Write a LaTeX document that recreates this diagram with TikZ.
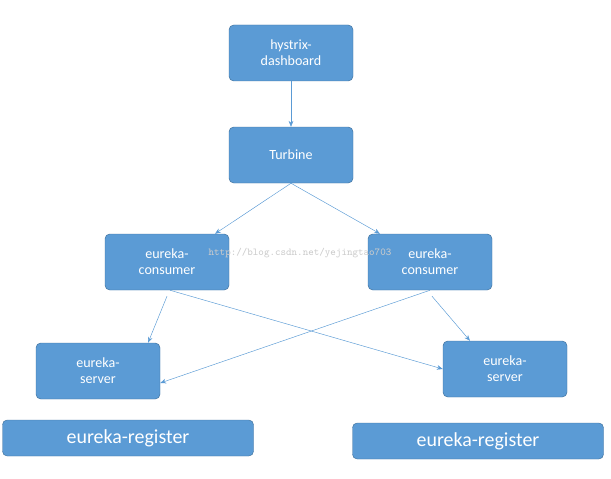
\documentclass[tikz,border=0pt]{standalone}
\usepackage{fontspec}
\setmainfont{Carlito}
\usetikzlibrary{arrows.meta}
\definecolor{boxfill}{HTML}{5B9BD5}
\definecolor{boxline}{HTML}{41719C}
\begin{document}
\begin{tikzpicture}[
  x=0.03cm, y=-0.03cm,
  box/.style={draw=boxline, fill=boxfill, rounded corners=4pt, text=white,
    align=center, minimum width=124*0.03cm, minimum height=56*0.03cm,
    font=\fontsize{12}{13.5}\selectfont},
  reg/.style={box, minimum width=251*0.03cm, minimum height=36*0.03cm,
    font=\fontsize{17}{19}\selectfont},
  link/.style={draw=boxfill, -{Stealth[length=5pt,width=4pt]}}
]
\useasboundingbox (0,0) rectangle (611,479);

% ---------------- boxes ----------------
\node[box] (dash) at (291,53) {hystrix-\\dashboard};
\node[box] (turb) at (291,155) {Turbine};
\node[box] (consL) at (167,262) {eureka-\\consumer};
\node[box] (consR) at (430,262) {eureka-\\consumer};
\node[box] (servL) at (98,371) {eureka-\\server};
\node[box] (servR) at (505,369) {eureka-\\server};
\node[reg] (regL) at (128,438) {eureka-register};
\node[reg] (regR) at (478,441) {eureka-register};

% watermark
\node[text=gray!40, font=\ttfamily\small] (mark) at (300,253) {http://blog.csdn.net/yejingtao703};

% ---------------- connectors ----------------
\draw[link] (dash.south) -- (turb.north);
\draw[link] (turb.south) -- ([xshift=48*0.03cm]consL.north);
\draw[link] (turb.south) -- ([xshift=-50*0.03cm]consR.north);
\draw[link] ([yshift=-6*0.03cm]consL.south) -- ([xshift=50*0.03cm]servL.north);
\draw[link] ([xshift=3*0.03cm]consL.south) -- (servR.west);
\draw[link] (consR.south) -- ([yshift=-12*0.03cm]servL.east);
\draw[link] ([xshift=2*0.03cm,yshift=-6*0.03cm]consR.south) -- ([xshift=-35*0.03cm]servR.north);
\end{tikzpicture}
\end{document}
